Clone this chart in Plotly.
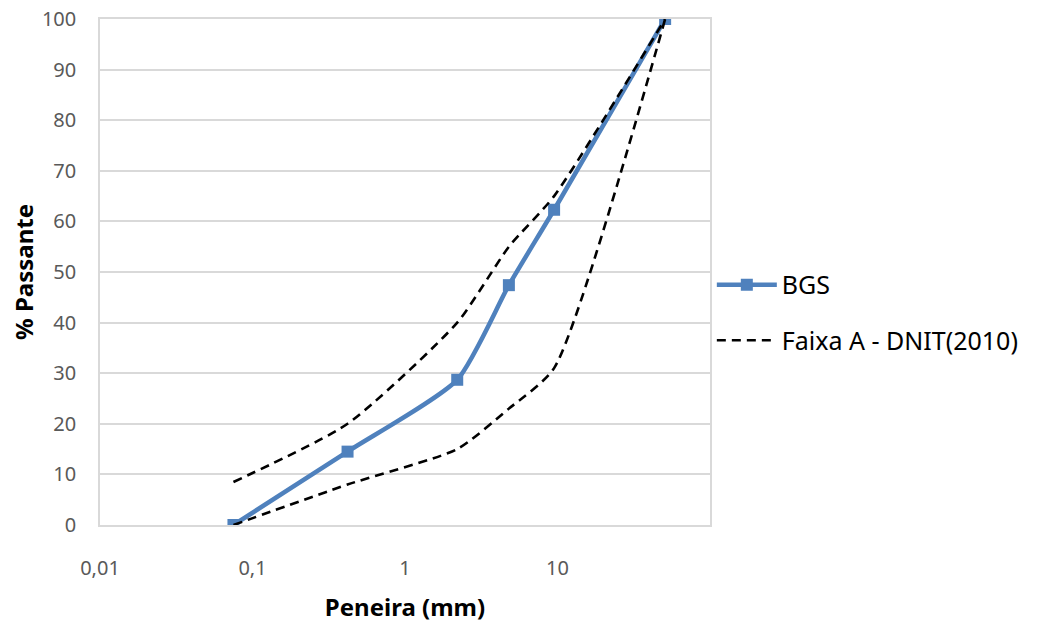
import plotly.graph_objects as go

sieve_mm = [0.075, 0.42, 2.2, 4.8, 9.5, 50.8]
bgs_pass = [0, 14.5, 28.7, 47.4, 62.3, 100]
faixa_upper = [8.5, 20, 40, 55, 65, 100]
faixa_lower = [0, 8, 15, 23, 31, 100]
x_tickvals = [0.01, 0.1, 1, 10]
x_ticktext = ["0,01", "0,1", "1", "10"]
y_tickvals = list(range(0, 101, 10))

blue = "#4F81BD"
font = "Noto Sans"

fig = go.Figure()
fig.add_trace(go.Scatter(
    x=sieve_mm, y=bgs_pass, name="BGS", mode="lines+markers",
    line=dict(color=blue, width=4.5, shape="spline", smoothing=0.6),
    marker=dict(symbol="square", size=12, color=blue),
    legendgroup="a",
))
fig.add_trace(go.Scatter(
    x=sieve_mm, y=faixa_upper, name="Faixa A - DNIT(2010)", mode="lines",
    line=dict(color="black", width=2.6, dash="9px,6px", shape="spline", smoothing=0.6),
    legendgroup="b",
))
fig.add_trace(go.Scatter(
    x=sieve_mm, y=faixa_lower, name="Faixa A - DNIT(2010) inf", mode="lines",
    line=dict(color="black", width=2.6, dash="9px,6px", shape="spline", smoothing=0.6),
    showlegend=False, legendgroup="b",
))

fig.update_layout(
    width=1044, height=623,
    margin=dict(l=100, r=334, t=19, b=98),
    paper_bgcolor="white", plot_bgcolor="white",
    font=dict(family=font, size=20, color="#595959"),
    legend=dict(x=1.003, xanchor="left", y=0.42, yanchor="middle",
                font=dict(family=font, size=25, color="black"),
                tracegroupgap=20, itemwidth=60, bgcolor="rgba(0,0,0,0)"),
    showlegend=True,
)
fig.update_xaxes(
    type="log", range=[-2, 2], automargin=False,
    tickvals=x_tickvals, ticktext=x_ticktext,
    showgrid=False, zeroline=False,
    showline=True, linecolor="#D9D9D9", linewidth=1.5, mirror=True,
    ticks="", ticklabelstandoff=24,
    tickfont=dict(family=font, size=20, color="#595959"),
    title=dict(text="<b>Peneira (mm)</b>", standoff=22,
               font=dict(family=font, size=24, color="black")),
)
fig.update_yaxes(
    range=[0, 100], tickvals=y_tickvals, automargin=False,
    showgrid=True, gridcolor="#D9D9D9", gridwidth=1.5, zeroline=False,
    showline=True, linecolor="#D9D9D9", linewidth=1.5, mirror=True,
    ticks="", ticklabelstandoff=18,
    tickfont=dict(family=font, size=20, color="#595959"),
    title=dict(text="<b>% Passante</b>", standoff=2,
               font=dict(family=font, size=24, color="black")),
)

fig.write_html("out.html")
